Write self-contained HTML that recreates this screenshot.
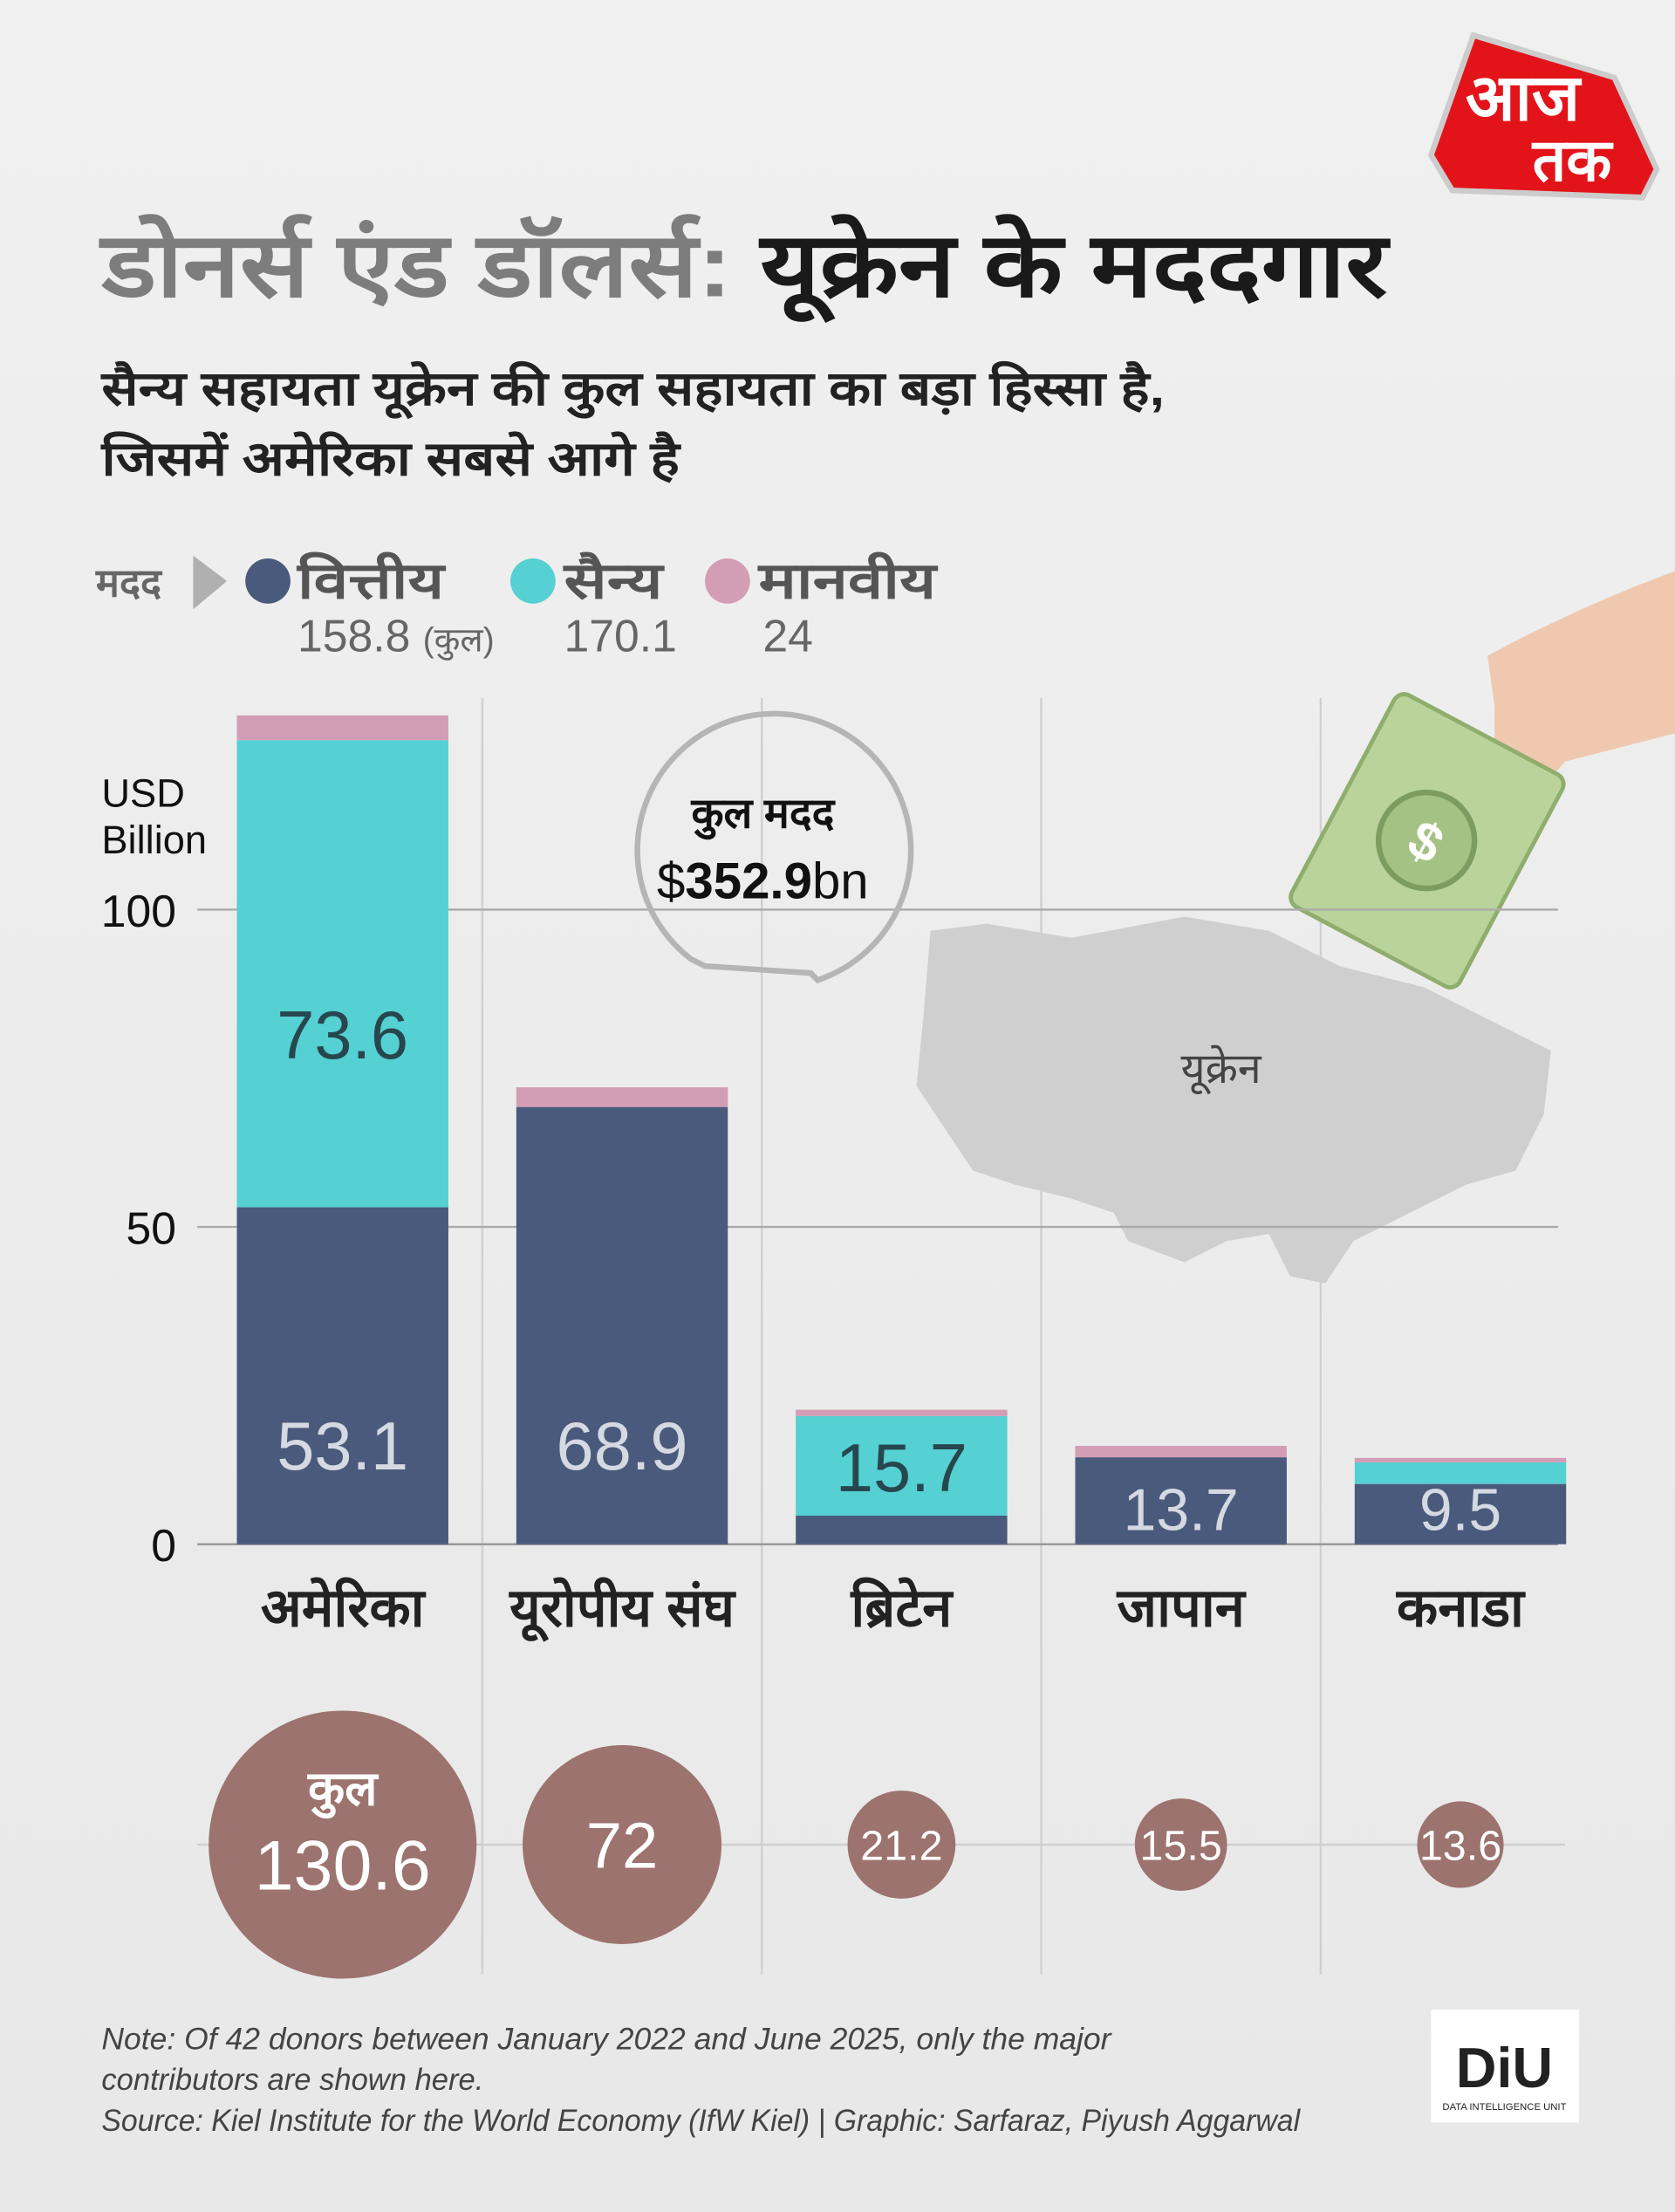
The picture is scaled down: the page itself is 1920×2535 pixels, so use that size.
<!DOCTYPE html>
<html><head><meta charset="utf-8">
<style>
html,body{margin:0;padding:0;background:#ececec;}
svg{display:block;}
text{font-family:"Liberation Sans","DejaVu Sans",sans-serif;}
</style></head>
<body>
<svg id="chart" width="1920" height="2535" viewBox="0 0 1188 1568.5" preserveAspectRatio="none" xmlns="http://www.w3.org/2000/svg">
<defs>
<linearGradient id="bg" x1="0" y1="0" x2="0" y2="1"><stop offset="0" stop-color="#f0f0f0"/><stop offset="1" stop-color="#e8e8e8"/></linearGradient>
</defs>
<rect width="1188" height="1568.5" fill="url(#bg)"/>

<g>
<path d="M1045 25 L1145 55 L1175 120 L1165 140 L1030 135 L1015 110 Z" fill="#e2141a" stroke="#ccc" stroke-width="4"/>
<text x="1080" y="85" font-size="46" font-weight="bold" fill="#fff" text-anchor="middle">आज</text>
<text x="1115" y="128" font-size="42" font-weight="bold" fill="#fff" text-anchor="middle">तक</text>
</g>

<text x="72" y="210" font-size="64" font-weight="bold" fill="#7d7d7d" textLength="912" lengthAdjust="spacingAndGlyphs">डोनर्स एंड डॉलर्स: <tspan fill="#1a1a1a">यूक्रेन के मददगार</tspan></text>
<text x="72" y="287" font-size="34" font-weight="bold" fill="#222" textLength="754" lengthAdjust="spacingAndGlyphs">सैन्य सहायता यूक्रेन की कुल सहायता का बड़ा हिस्सा है,</text>
<text x="72" y="337" font-size="34" font-weight="bold" fill="#222" textLength="410" lengthAdjust="spacingAndGlyphs">जिसमें अमेरिका सबसे आगे है</text>

<g>
<text x="68" y="423" font-size="28" font-weight="bold" fill="#666">मदद</text>
<path d="M137 394 L161 412 L137 432 Z" fill="#b0b0b0"/>
<circle cx="190" cy="412" r="16" fill="#4a5a7c"/>
<text x="211" y="424" font-size="36" font-weight="bold" fill="#555" textLength="104" lengthAdjust="spacingAndGlyphs">वित्तीय</text>
<text x="211" y="462" font-size="32" fill="#666">158.8 <tspan font-size="24">(कुल)</tspan></text>
<circle cx="378" cy="412" r="16" fill="#55d0d3"/>
<text x="400" y="424" font-size="36" font-weight="bold" fill="#555" textLength="70" lengthAdjust="spacingAndGlyphs">सैन्य</text>
<text x="400" y="462" font-size="32" fill="#666">170.1</text>
<circle cx="516" cy="412" r="16" fill="#d29db5"/>
<text x="538" y="424" font-size="36" font-weight="bold" fill="#555" textLength="126" lengthAdjust="spacingAndGlyphs">मानवीय</text>
<text x="541" y="462" font-size="32" fill="#666">24</text>
</g>

<g id="vlines"></g>

<path d="M660 660 L700 655 L760 665 L840 650 L900 660 L950 685 L1010 700 L1070 730 L1100 745 L1095 790 L1075 830 L1040 840 L1000 860 L960 880 L940 910 L915 905 L900 875 L870 880 L840 895 L800 880 L790 860 L760 850 L720 840 L690 830 L670 800 L650 770 L655 720 Z" fill="#cfcfcf"/>
<text x="866" y="768" font-size="30" fill="#444" text-anchor="middle">यूक्रेन</text>

<g>
<path d="M1055 465 Q1120 430 1188 405 L1188 520 L1110 540 L1080 575 L1060 570 L1060 500 Z" fill="#f0c8b0"/>
<g transform="rotate(28 1010 595)">
<rect x="945" y="510" width="135" height="170" rx="8" fill="#b9d39a" stroke="#8fae6e" stroke-width="3"/>
<circle cx="1012" cy="595" r="34" fill="#a4c283" stroke="#7d9c60" stroke-width="4"/>
<text x="1012" y="609" font-size="38" font-weight="bold" fill="#fff" text-anchor="middle">$</text>
</g>
</g>

<g id="grid"></g>

<g>
<path d="M490 680 A97 97 0 1 1 580 695 L575 690 L500 685 Z" fill="none" stroke="#b5b5b5" stroke-width="4"/>
<text x="541" y="587" font-size="30" font-weight="bold" fill="#111" text-anchor="middle">कुल मदद</text>
<text x="541" y="637" font-size="36" fill="#111" text-anchor="middle">$<tspan font-weight="bold">352.9</tspan>bn</text>
</g>

<text x="72" y="572" font-size="28" fill="#111">USD</text>
<text x="72" y="605" font-size="28" fill="#111">Billion</text>

<g id="bars"></g>
<g id="xlabels"></g>
<g id="bubbles"></g>

<g>
<text x="72" y="1453" font-size="22" font-style="italic" fill="#444" textLength="716" lengthAdjust="spacingAndGlyphs">Note: Of 42 donors between January 2022 and June 2025, only the major</text>
<text x="72" y="1482" font-size="22" font-style="italic" fill="#444" textLength="271" lengthAdjust="spacingAndGlyphs">contributors are shown here.</text>
<text x="72" y="1511" font-size="22" font-style="italic" fill="#444" textLength="850" lengthAdjust="spacingAndGlyphs">Source: Kiel Institute for the World Economy (IfW Kiel) | Graphic: Sarfaraz, Piyush Aggarwal</text>
</g>
<g>
<rect x="1015" y="1425" width="105" height="80" fill="#fff"/>
<text x="1067" y="1480" font-size="40" font-weight="bold" fill="#222" text-anchor="middle">DiU</text>
<text x="1067" y="1496" font-size="7" fill="#222" text-anchor="middle">DATA INTELLIGENCE UNIT</text>
</g>
</svg>
<script>
const categories=["अमेरिका","यूरोपीय संघ","ब्रिटेन","जापान","कनाडा"];
const financial=[53.1,68.9,4.5,13.7,9.5];
const military=[73.6,0,15.7,0,3.4];
const humanitarian=[3.9,3.1,1.0,1.8,0.7];
const totals=["130.6","72","21.2","15.5","13.6"];
const totalValues=[130.6,72,21.2,15.5,13.6];
const ticks=[0,50,100];
const finLabels=["53.1","68.9","","13.7","9.5"];
const milLabels=["73.6","","15.7","",""];
const NS="http://www.w3.org/2000/svg";
const y0=1095, k=4.5;
const y=v=>y0-k*v;
const xc=i=>243+i*198.2;
const bw=150;
function mk(tag,attrs,parent){const e=document.createElementNS(NS,tag);for(const a in attrs)e.setAttribute(a,attrs[a]);parent.appendChild(e);return e;}
const grid=document.getElementById('grid');
ticks.forEach(t=>{
 const l=mk('line',{x1:140,x2:1105,y1:y(t),y2:y(t),stroke:t===0?'#999':'#aaa','stroke-width':1.5},grid);
 
 
 const tx=mk('text',{x:125,y:y(t)+12,'font-size':32,fill:'#111','text-anchor':'end'},grid);
 tx.textContent=t;
 
 
});
const vl=document.getElementById('vlines');
for(let i=0;i<4;i++){
 const x=(xc(i)+xc(i+1))/2;
 const l=mk('line',{x1:x,x2:x,y1:495,y2:1400,stroke:'#d0d0d0','stroke-width':1.5},vl);
 
 
}
const bars=document.getElementById('bars');
categories.forEach((c,i)=>{
 const x=xc(i)-bw/2;
 let base=0;
 [[financial,'#4a5a7c','financial'],[military,'#55d0d3','military'],[humanitarian,'#d29db5','humanitarian']].forEach(([arr,col,nm])=>{
  const v=arr[i]; if(v<=0)return;
  const r=mk('rect',{x:x,y:y(base+v),width:bw,height:k*v,fill:col},bars);
  
  
  base+=v;
 });
 if(finLabels[i]){
  const big=financial[i]>30;
  const t=mk('text',{x:xc(i),y:big?y0-53:y0-10,'font-size':big?48:42,fill:'#d5d9e2','text-anchor':'middle'},bars);
  t.textContent=finLabels[i];
  
  
 }
 if(milLabels[i]){
  const m=military[i];
  const yy=m>40?y(financial[i]+m*0.37)+17:y(financial[i]+m/2)+18;
  const t=mk('text',{x:xc(i),y:yy,'font-size':48,fill:'#27474f','text-anchor':'middle'},bars);
  t.textContent=milLabels[i];
  
  
 }
});
const xl=document.getElementById('xlabels');
categories.forEach((c,i)=>{
 const t=mk('text',{x:xc(i),y:1153,'font-size':38,'font-weight':'bold',fill:'#222','text-anchor':'middle'},xl);
 t.textContent=c;
 
 
});
const bb=document.getElementById('bubbles');
const bl=mk('line',{x1:140,x2:1110,y1:1308,y2:1308,stroke:'#cfcfcf','stroke-width':1.5},bb);


totalValues.forEach((v,i)=>{
 const r=Math.max(30,95*Math.sqrt(v/130.6));
 const c=mk('circle',{cx:xc(i),cy:1308,r:r,fill:'#9c736e'},bb);
 
 
 const fs=i===0?50:(i===1?46:30);
 const t=mk('text',{x:xc(i),y:i===0?1340:1308+fs*0.36,'font-size':fs,fill:'#fff','text-anchor':'middle'},bb);
 t.textContent=totals[i];
 
 
 if(i===0){
  const h=mk('text',{x:xc(i),y:1280,'font-size':34,'font-weight':'bold',fill:'#fff','text-anchor':'middle'},bb);
  h.textContent='कुल';
  
  
 }
});
</script>
</body></html>
